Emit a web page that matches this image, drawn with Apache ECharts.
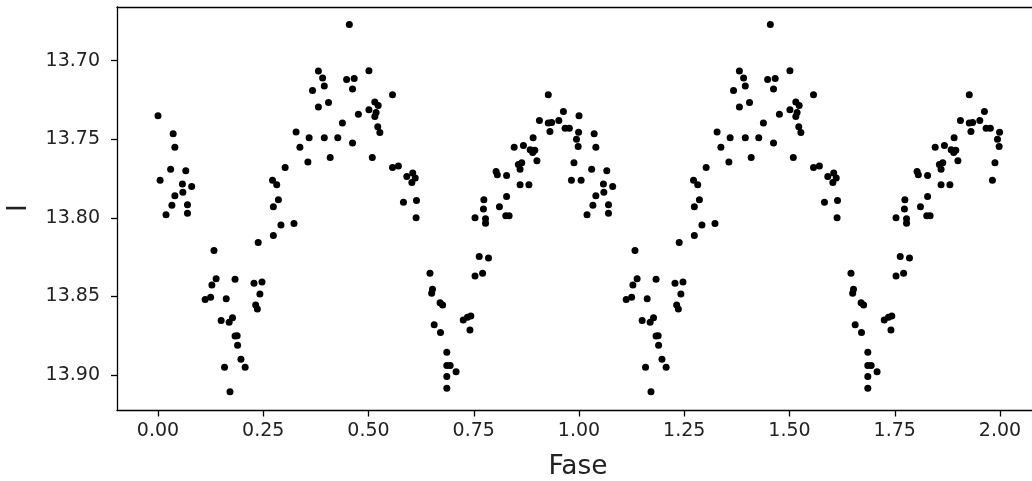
<!DOCTYPE html>
<html>
<head>
<meta charset="utf-8">
<script src="https://cdn.jsdelivr.net/npm/echarts@6/dist/echarts.min.js"></script>
<style>
html,body{margin:0;padding:0;background:#fff;}
#c{width:1032px;height:481px;}
</style>
</head>
<body>
<div id="c"></div>
<script>
// Observed phase (0..1) and magnitude I
const phase = [
0.000,0.036,0.040,0.030,0.066,0.005,0.058,0.080,0.059,0.040,0.070,0.033,0.019,0.070,
0.112,0.125,0.128,0.133,0.138,0.150,0.158,0.162,0.169,0.171,0.177,0.183,0.183,0.188,0.189,0.197,0.207,
0.228,0.232,0.236,0.238,0.242,0.247,0.272,0.274,0.274,0.282,0.286,0.292,0.302,0.323,
0.328,0.337,0.356,0.359,0.367,0.381,0.381,0.391,0.395,0.395,0.405,0.409,0.427,0.438,0.448,0.4545,0.462,0.462,0.466,0.476,0.501,0.501,0.509,0.515,0.515,0.518,0.522,0.523,0.527,0.557,
0.557,0.571,0.583,0.591,0.603,0.605,0.611,0.613,0.614,
0.646,0.650,0.652,0.656,0.670,0.671,0.676,0.686,0.686,0.686,0.686,0.694,0.708,0.725,0.735,0.741,0.743,
0.753,0.753,0.763,0.771,0.773,0.774,0.778,0.778,0.785,0.803,0.806,0.811,0.826,0.828,0.828,0.834,
0.846,0.856,0.860,0.860,0.864,0.868,0.881,0.884,0.890,0.891,0.895,0.900,0.906,0.927,0.927,0.931,0.935,0.952,0.963,0.967,0.977,0.982,0.988,0.994,0.998,0.999
];
const mag = [
13.735,13.7465,13.755,13.769,13.770,13.776,13.7785,13.780,13.7837,13.786,13.7917,13.792,13.798,13.797,
13.852,13.8505,13.8427,13.8208,13.8387,13.8654,13.895,13.8514,13.8664,13.9106,13.8635,13.839,13.8752,13.875,13.881,13.890,13.895,
13.8416,13.8554,13.858,13.8157,13.8484,13.8408,13.776,13.793,13.8113,13.779,13.7885,13.8045,13.768,13.8036,
13.7454,13.755,13.7645,13.749,13.719,13.7066,13.7295,13.711,13.716,13.749,13.7265,13.7616,13.749,13.7397,13.712,13.6769,13.718,13.7524,13.7113,13.734,13.7064,13.7312,13.7616,13.7263,13.7355,13.733,13.742,13.7285,13.7457,13.7217,
13.768,13.767,13.790,13.7737,13.7775,13.7715,13.7747,13.800,13.789,
13.8352,13.848,13.8454,13.868,13.854,13.873,13.8554,13.8855,13.894,13.901,13.9085,13.894,13.898,13.865,13.8633,13.8713,13.8624,
13.800,13.837,13.8246,13.8352,13.7943,13.7885,13.8006,13.8034,13.8255,13.7705,13.7726,13.793,13.7987,13.773,13.7864,13.7987,
13.755,13.766,13.769,13.779,13.765,13.754,13.779,13.7567,13.7584,13.749,13.757,13.7637,13.738,13.7217,13.7397,13.745,13.7393,13.738,13.7323,13.743,13.743,13.776,13.765,13.750,13.7546,13.7455
];
const xTicks = [0, 0.25, 0.5, 0.75, 1.0, 1.25, 1.5, 1.75, 2.0];
const yTicks = [13.70, 13.75, 13.80, 13.85, 13.90];
const xLabel = 'Fase';
const yLabel = 'I';

// Folded light curve shown over two cycles (phase and phase + 1)
const pts = [];
for (let i = 0; i < phase.length; i++) pts.push([phase[i], mag[i]]);
for (let i = 0; i < phase.length; i++) pts.push([phase[i] + 1, mag[i]]);

const font = 'DejaVu Sans';
const lineSt = {color: '#000', width: 1.3};
const chart = echarts.init(document.getElementById('c'), null, {renderer: 'canvas'});
chart.setOption({
  animation: false,
  backgroundColor: '#fff',
  grid: {left: 117, top: 7, width: 915, height: 403.5, show: false},
  xAxis: [{
    type: 'value', min: -0.0974, max: 2.0760, position: 'bottom',
    axisLine: {show: true, onZero: false, lineStyle: lineSt},
    axisTick: {show: true, inside: false, length: 6, customValues: xTicks, lineStyle: lineSt},
    axisLabel: {show: true, customValues: xTicks, formatter: v => v.toFixed(2), fontFamily: font, fontSize: 19, color: '#222', margin: 11},
    splitLine: {show: false}
  }, {
    type: 'value', min: -0.0974, max: 2.0760, position: 'top',
    axisLine: {show: true, onZero: false, lineStyle: lineSt},
    axisTick: {show: false}, axisLabel: {show: false}, splitLine: {show: false}
  }],
  yAxis: {
    type: 'value', inverse: true, min: 13.6658, max: 13.9226,
    axisLine: {show: true, onZero: false, lineStyle: lineSt},
    axisTick: {show: true, inside: false, length: 6, customValues: yTicks, lineStyle: lineSt},
    axisLabel: {show: true, customValues: yTicks, formatter: v => v.toFixed(2), fontFamily: font, fontSize: 19, color: '#222', margin: 17},
    splitLine: {show: false}
  },
  graphic: [
    {type: 'text', x: 578, y: 467, style: {text: xLabel, font: '26.5px "DejaVu Sans"', fill: '#222', textAlign: 'center', textVerticalAlign: 'middle'}},
    {type: 'text', x: 19, y: 208, rotation: Math.PI / 2, style: {text: yLabel, font: '26.5px "DejaVu Sans"', fill: '#222', textAlign: 'center', textVerticalAlign: 'middle'}}
  ],
  series: [{
    type: 'scatter', xAxisIndex: 0, data: pts, symbol: 'circle', symbolSize: 7,
    itemStyle: {color: '#000', opacity: 1}, silent: true
  }]
});
</script>
</body>
</html>
